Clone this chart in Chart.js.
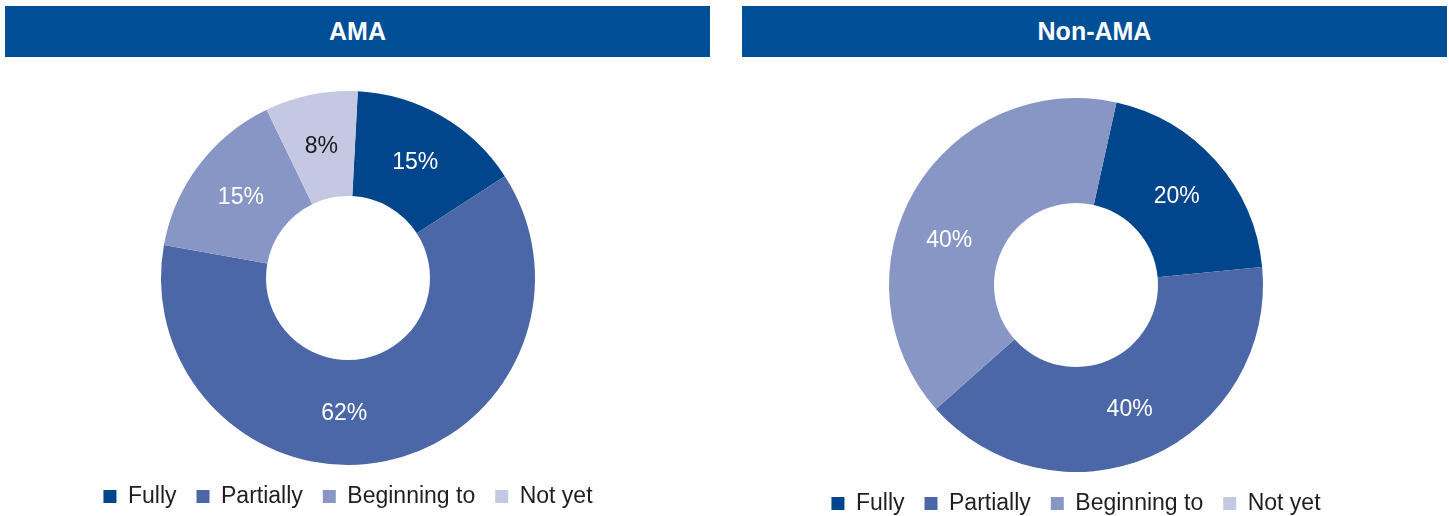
<!DOCTYPE html>
<html>
<head>
<meta charset="utf-8">
<script src="https://cdn.jsdelivr.net/npm/chart.js@4/dist/chart.umd.min.js"></script>
<style>
  html, body { margin: 0; padding: 0; width: 1449px; height: 516px; overflow: hidden; background: #fff; }
  .head { position: absolute; top: 6px; height: 51px; background: #014f97; color: #fff;
          font-family: "Liberation Sans", Arial, sans-serif; font-weight: bold; font-size: 25px;
          display: flex; align-items: center; justify-content: center; }
  .box { position: absolute; top: 60px; }
</style>
</head>
<body>
<div class="head" style="left:5px; width:705px;">AMA</div>
<div class="head" style="left:742px; width:705px;">Non-AMA</div>
<div class="box" style="left:0px; width:696px; height:458px;"><canvas id="ama"></canvas></div>
<div class="box" style="left:730px; width:692px; height:465px;"><canvas id="nonama"></canvas></div>
<script>
const categories = ["Fully", "Partially", "Beginning to", "Not yet"];
const amaValues = [15, 62, 15, 8];
const nonAmaValues = [20, 40, 40, 0];
const segmentColors = ["#01458c", "#4b67a7", "#8796c4", "#c4c8e3"];
const labelColors = ["#ffffff", "#ffffff", "#ffffff", "#1a1a1a"];

const FONT = '"Liberation Sans", Arial, sans-serif';

// Writes each slice's percentage inside its ring segment; an optional
// per-slice angular nudge (degrees) moves a label along the ring.
const sliceLabels = {
  id: 'sliceLabels',
  afterDatasetsDraw(chart, args, opts) {
    const ctx = chart.ctx;
    const meta = chart.getDatasetMeta(0);
    const data = chart.data.datasets[0].data;
    const nudge = opts.nudge || [];
    ctx.save();
    ctx.font = '23px ' + FONT;
    ctx.textAlign = 'center';
    ctx.textBaseline = 'middle';
    meta.data.forEach((arc, i) => {
      if (!data[i]) return;
      const a = arc.getProps(['x', 'y', 'startAngle', 'endAngle', 'innerRadius', 'outerRadius'], true);
      const ang = (a.startAngle + a.endAngle) / 2 + (nudge[i] || 0) * Math.PI / 180;
      const r = (a.innerRadius + a.outerRadius) / 2;
      ctx.fillStyle = labelColors[i];
      ctx.fillText(data[i] + '%', a.x + r * Math.cos(ang), a.y + r * Math.sin(ang) + 1);
    });
    ctx.restore();
  }
};

function makeDonut(id, values, rotation, padTop, nudge) {
  return new Chart(document.getElementById(id), {
    type: 'doughnut',
    data: {
      labels: categories,
      datasets: [{
        data: values,
        backgroundColor: segmentColors,
        borderWidth: 0,
        hoverOffset: 0
      }]
    },
    options: {
      responsive: true,
      maintainAspectRatio: false,
      animation: false,
      rotation: rotation,
      radius: 187,
      cutout: 82,
      layout: { padding: { top: padTop, bottom: 0, left: 0, right: 0 } },
      plugins: {
        tooltip: { enabled: false },
        sliceLabels: { nudge: nudge },
        legend: {
          position: 'bottom',
          labels: {
            boxWidth: 13,
            boxHeight: 13,
            padding: 20,
            color: '#1f1f1f',
            font: { family: FONT, size: 23 }
          }
        }
      }
    },
    plugins: [sliceLabels]
  });
}

makeDonut('ama', amaValues, 3, 31, [0, 13, 0, 0]);
makeDonut('nonama', nonAmaValues, 12.5, 38, [0, 0, -11, 0]);
</script>
</body>
</html>
